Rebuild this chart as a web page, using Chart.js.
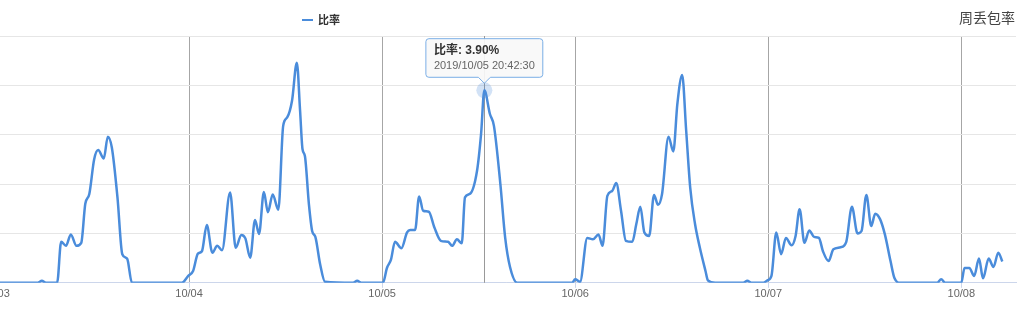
<!DOCTYPE html>
<html>
<head>
<meta charset="utf-8">
<script src="https://cdn.jsdelivr.net/npm/chart.js@4"></script>
<style>
  html, body { margin: 0; padding: 0; background: #fff; overflow: hidden; }
  body { width: 1022px; height: 309px; position: relative; font-family: "Liberation Sans", "Noto Sans CJK SC", sans-serif; }
  #wrap { position: absolute; left: -40px; top: 0; width: 1062px; height: 309px; }
  #legend { position: absolute; left: 302px; top: 12px; font-size: 11px; font-weight: bold; color: #333; line-height: 16px; }
  #legend i { display: inline-block; width: 11px; height: 2px; background: #4a8cdb; vertical-align: middle; margin-right: 5px; position: relative; top: -1px; }
  #title { position: absolute; right: 7px; top: 7px; font-size: 14px; color: #444; font-family: "Noto Sans CJK SC", sans-serif; }
</style>
</head>
<body>
<div id="wrap"><canvas id="chart"></canvas></div>
<div id="legend"><i></i>比率</div>
<div id="title">周丢包率</div>
<script>
const SERIES_NAME = '比率';
const START_UTC = Date.UTC(2019, 9, 3); // 10/03 00:00 on the axis
const TZ_OFFSET_H = 8; // tooltip shows local time

// hours since 10/03 00:00
const hours = [
  0, 5.2, 5.7, 6.2, 7.6, 8.1, 8.7, 9.3, 10.0, 10.6, 11.1, 11.6, 12.2, 12.7, 13.4, 13.9, 14.4, 15.1, 15.7, 16.3, 16.9,
  23.1, 23.9, 24.5, 25.1, 25.6, 26.2, 26.9, 27.5, 28.1, 29.1, 29.8, 30.5, 31.0, 31.6, 32.2, 32.7, 33.3, 33.8, 34.4, 35.1,
  35.7, 36.2, 36.8, 37.4, 37.8, 38.1, 38.4, 38.9, 39.3, 39.7, 40.3, 40.9,
  44.4, 44.9, 45.4,
  48.1, 48.6, 49.1, 49.6, 50.4, 51.1, 51.5, 52.1, 52.6, 53.1, 53.8, 54.5, 55.3, 56.2, 56.7, 57.3, 57.9, 58.3, 58.9, 59.8,
  60.3, 60.70833, 61.4, 61.9, 62.7, 63.3, 63.9, 64.8,
  71.6, 72.0, 72.6, 73.5, 74.2, 74.9, 75.4, 76.0, 76.6, 77.1, 77.7, 78.3, 79.1, 79.6, 80.1, 80.6, 81.2, 81.8, 82.3, 82.8,
  83.6, 84.2, 84.7, 85.3, 85.8, 86.3, 86.9, 87.5, 88.2, 88.5, 89.4,
  92.9, 93.4, 93.9,
  95.4, 95.9, 96.4, 97.0, 97.6, 98.2, 98.9, 99.4, 99.9, 100.5, 101.1, 101.7, 102.3, 102.8, 103.5, 104.1, 105.0, 105.7,
  106.4, 107.1, 107.6, 108.2, 108.8, 109.3, 109.9, 110.5, 111.2, 111.7, 112.4,
  117.0, 117.5, 118.0,
  120.0, 120.4, 121.0, 121.6, 122.2, 122.7, 123.4, 124.0, 124.6, 125.1,
];

// loss rate in %
const rates = [
  0, 0, 0.04, 0, 0, 0.83, 0.75, 0.98, 0.75, 0.81, 1.6, 1.8, 2.5, 2.69, 2.52, 2.96, 2.74, 1.73, 0.58, 0.49, 0,
  0, 0.14, 0.24, 0.59, 0.64, 1.17, 0.61, 0.75, 0.66, 1.83, 0.71, 0.97, 0.9, 0.51, 1.27, 0.99, 1.84, 1.43, 1.79, 1.48,
  3.18, 3.35, 3.69, 4.46, 3.49, 2.71, 2.57, 1.59, 1.05, 0.93, 0.37, 0.02,
  0, 0.04, 0,
  0, 0.3, 0.47, 0.83, 0.7, 1.02, 1.07, 1.07, 1.75, 1.46, 1.44, 1.12, 0.85, 0.83, 0.75, 0.88, 0.8, 1.73, 1.8, 2.27,
  3.01, 3.9, 3.42, 3.18, 2.0, 0.91, 0.32, 0,
  0, 0.07, 0.02, 0.91, 0.88, 0.98, 0.75, 1.76, 1.86, 2.02, 1.46, 0.85, 0.83, 1.19, 1.54, 1.02, 0.95, 1.78, 1.58, 1.8,
  2.96, 2.66, 3.62, 4.21, 3.08, 1.93, 1.19, 0.71, 0.24, 0.05, 0,
  0, 0.04, 0,
  0, 0.05, 0.14, 1.02, 0.58, 0.91, 0.76, 0.95, 1.49, 0.81, 1.06, 0.93, 0.91, 0.64, 0.44, 0.68, 0.72, 0.83,
  1.54, 1.0, 1.05, 1.78, 1.15, 1.4, 1.29, 0.98, 0.44, 0.09, 0,
  0, 0.07, 0,
  0, 0.3, 0.3, 0.14, 0.49, 0.09, 0.49, 0.32, 0.61, 0.43,
];

const X_MAX_H = 126.8;
const DAY_TICKS = [0, 24, 48, 72, 96, 120];
const Y_TICKS = [0, 1, 2, 3, 4, 5];
const TOOLTIP_HOUR = 60.70833;

const pad = (n) => String(n).padStart(2, '0');

function dayLabel(h) {
  const d = new Date(START_UTC + h * 3600000);
  return `${pad(d.getUTCMonth() + 1)}/${pad(d.getUTCDate())}`;
}

function fullTime(h) {
  const ms = Math.round((h + TZ_OFFSET_H) * 3600) * 1000;
  const d = new Date(START_UTC + ms);
  return `${d.getUTCFullYear()}/${pad(d.getUTCMonth() + 1)}/${pad(d.getUTCDate())} ` +
    `${pad(d.getUTCHours())}:${pad(d.getUTCMinutes())}:${pad(d.getUTCSeconds())}`;
}

const crosshair = {
  id: 'crosshair',
  beforeDatasetsDraw(chart) {
    const active = chart.tooltip.getActiveElements();
    if (!active.length) return;
    const x = Math.round(active[0].element.x) + 0.5;
    const { top, bottom } = chart.chartArea;
    const ctx = chart.ctx;
    ctx.save();
    ctx.strokeStyle = '#999';
    ctx.lineWidth = 1;
    ctx.beginPath();
    ctx.moveTo(x, top);
    ctx.lineTo(x, bottom);
    ctx.stroke();
    ctx.restore();
  },
};

Chart.defaults.font.family = '"Liberation Sans", "Noto Sans CJK SC", sans-serif';

const ctx = document.getElementById('chart').getContext('2d');
const chart = new Chart(ctx, {
  type: 'line',
  data: {
    datasets: [{
      label: SERIES_NAME,
      data: hours.map((h, i) => ({ x: h, y: rates[i] })),
      borderColor: '#4a8cdb',
      borderWidth: 2.5,
      cubicInterpolationMode: 'monotone',
      pointRadius: 0,
      pointHoverRadius: 8,
      pointHoverBorderWidth: 0,
      pointHoverBackgroundColor: 'rgba(74,140,219,0.25)',
      fill: false,
    }],
  },
  options: {
    responsive: true,
    maintainAspectRatio: false,
    animation: false,
    events: [],
    layout: { padding: { left: 36, right: 6, top: 36, bottom: 8 } },
    scales: {
      x: {
        type: 'linear',
        min: 0,
        max: X_MAX_H,
        afterBuildTicks: (scale) => {
          scale.ticks = DAY_TICKS.map((v) => ({ value: v }));
        },
        ticks: {
          autoSkip: false,
          maxRotation: 0,
          padding: 0,
          color: '#666',
          font: { size: 11 },
          callback: (v) => dayLabel(v),
        },
        grid: { color: '#a6a6a6', tickColor: '#ccd6eb', tickLength: 5, lineWidth: 1 },
        border: { display: true, color: '#ccd6eb', width: 1 },
      },
      y: {
        min: 0,
        max: 5,
        afterBuildTicks: (scale) => {
          scale.ticks = Y_TICKS.map((v) => ({ value: v }));
        },
        afterFit: (scale) => { scale.width = 0; },
        ticks: { display: false },
        grid: { color: '#e6e6e6', drawTicks: false },
        border: { display: false },
      },
    },
    plugins: {
      legend: { display: false },
      title: { display: false },
      tooltip: {
        enabled: true,
        displayColors: false,
        yAlign: 'bottom',
        xAlign: 'center',
        caretSize: 6,
        caretPadding: 7,
        cornerRadius: 3,
        backgroundColor: 'rgba(248,248,248,0.92)',
        borderColor: '#7aaee6',
        borderWidth: 1,
        padding: { top: 5, bottom: 5, left: 8, right: 8 },
        titleColor: '#333',
        titleFont: { size: 12, weight: 'bold' },
        titleMarginBottom: 1,
        bodyColor: '#666',
        bodyFont: { size: 11 },
        callbacks: {
          title: (items) => `${SERIES_NAME}: ${items[0].parsed.y.toFixed(2)}%`,
          label: (item) => fullTime(item.parsed.x),
        },
      },
    },
  },
  plugins: [crosshair],
});

const tipIndex = hours.indexOf(TOOLTIP_HOUR);
const el = chart.getDatasetMeta(0).data[tipIndex];
chart.setActiveElements([{ datasetIndex: 0, index: tipIndex }]);
chart.tooltip.setActiveElements([{ datasetIndex: 0, index: tipIndex }], { x: el.x, y: el.y });
chart.update();
</script>
</body>
</html>
